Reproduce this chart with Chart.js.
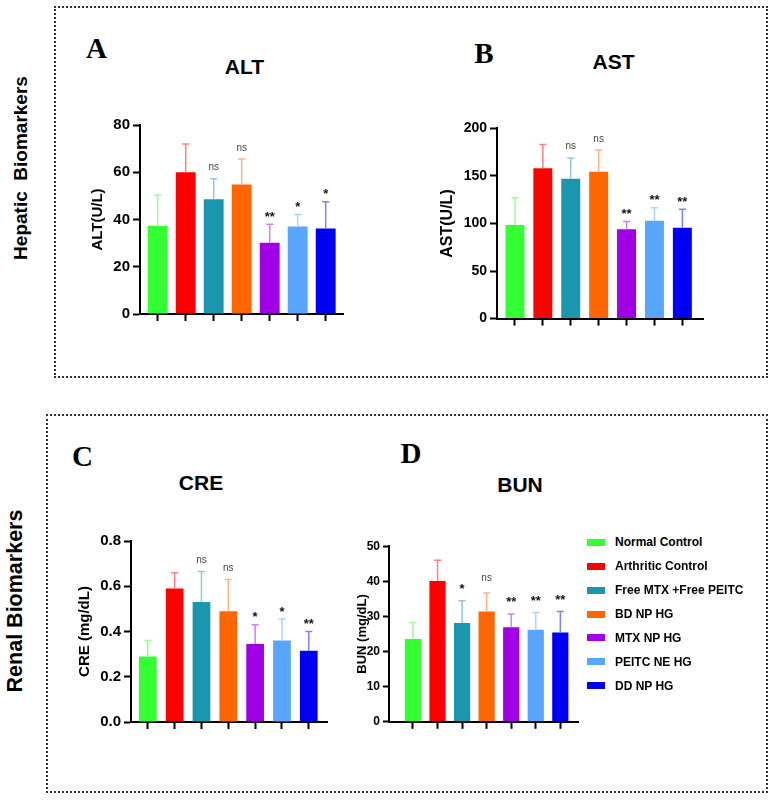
<!DOCTYPE html>
<html>
<head>
<meta charset="utf-8">
<script src="https://cdn.jsdelivr.net/npm/chart.js@4.4.0/dist/chart.umd.min.js"></script>
<style>
    body { margin: 0; background: #fff; font-family: "Liberation Sans", Arial, sans-serif; }
    #page { position: relative; width: 771px; height: 800px; overflow: hidden; }
    .box { position: absolute; border: 2px dotted #333; box-sizing: border-box; }
    .lbl { position: absolute; transform: translate(-50%, -50%); line-height: 1; white-space: nowrap; font-weight: bold; color: #000; }
    .letter { font-family: "Liberation Serif", "Times New Roman", serif; font-size: 29px; }
    .ttl { font-size: 21px; }
    .side { transform: translate(-50%, -50%) rotate(-90deg); }
    canvas { position: absolute; }
    .leg { position: absolute; left: 587px; height: 24px; display: flex; align-items: center; font-size: 12px; font-weight: bold; white-space: nowrap; }
    .leg span { display: inline-block; width: 18px; height: 7px; margin-right: 10px; }
</style>
</head>
<body>
<div id="page">
    <div class="box" style="left:54px;top:6px;width:714px;height:372px;"></div>
    <div class="box" style="left:46px;top:414px;width:722px;height:379px;"></div>

    <div class="lbl side" style="left:20px;top:168px;font-size:19px;">Hepatic&nbsp; Biomarkers</div>
    <div class="lbl side" style="left:15.5px;top:601px;font-size:21.5px;">Renal Biomarkers</div>

    <div class="lbl letter" style="left:96.5px;top:48px;">A</div>
    <div class="lbl ttl" style="left:244.5px;top:65.5px;">ALT</div>
    <div class="lbl letter" style="left:484px;top:52.5px;">B</div>
    <div class="lbl ttl" style="left:613.5px;top:61px;">AST</div>
    <div class="lbl letter" style="left:82.5px;top:456px;">C</div>
    <div class="lbl ttl" style="left:201px;top:481.5px;">CRE</div>
    <div class="lbl letter" style="left:411px;top:452.5px;">D</div>
    <div class="lbl ttl" style="left:520px;top:483.5px;">BUN</div>

    <canvas id="altChart"></canvas>
    <canvas id="astChart"></canvas>
    <canvas id="creChart"></canvas>
    <canvas id="bunChart"></canvas>
    <div id="legend"></div>
</div>
<script>
const groups = ['Normal Control', 'Arthritic Control', 'Free MTX +Free PEITC', 'BD NP HG', 'MTX NP HG', 'PEITC NE HG', 'DD NP HG'];
const barColors = ['#33ff33', '#ff0000', '#1a96ae', '#ff6600', '#a100e6', '#58a6ff', '#0000f2'];

const altMean = [37.4, 60, 48.6, 54.8, 30.2, 37, 36.2];
const altSd = [13, 12, 8.7, 10.8, 7.8, 5.1, 11.3];
const altSig = ['', '', 'ns', 'ns', '**', '*', '*'];
const altTicks = [0, 20, 40, 60, 80];

const astMean = [98.5, 158, 147, 154.5, 94, 103, 95.5];
const astSd = [28.5, 25, 22, 22.5, 8, 13.5, 19.5];
const astSig = ['', '', 'ns', 'ns', '**', '**', '**'];
const astTicks = [0, 50, 100, 150, 200];

const creMean = [0.29, 0.59, 0.53, 0.49, 0.345, 0.36, 0.315];
const creSd = [0.07, 0.07, 0.135, 0.14, 0.085, 0.095, 0.085];
const creSig = ['', '', 'ns', 'ns', '*', '*', '**'];
const creTicks = [0, 0.2, 0.4, 0.6, 0.8];

const bunMean = [23.6, 40.1, 28.1, 31.4, 26.9, 26.2, 25.4];
const bunSd = [4.7, 5.9, 6.4, 5.3, 3.8, 4.9, 6];
const bunSig = ['', '', '*', 'ns', '**', '**', '**'];
const bunTicks = [0, 10, 20, 30, 40, 50];

Chart.defaults.font.family = '"Liberation Sans", Arial, sans-serif';

// layout of each panel: plot area [left, top, right, bottom] in page pixels
const panels = [
    { id: 'altChart', title: 'ALT(U/L)', mean: altMean, sd: altSd, sig: altSig, ticks: altTicks, dec: 0,
      area: [140, 123, 343, 316], inset: [3.7, 3.3], bar: 0.71, tickFont: 15, titleFont: 15, titlePad: 9, tickLen: 7, sigGap: 11 },
    { id: 'astChart', title: 'AST(U/L)', mean: astMean, sd: astSd, sig: astSig, ticks: astTicks, dec: 0,
      area: [497, 127, 703, 320], inset: [4, 6.7], bar: 0.68, tickFont: 14, titleFont: 16, titlePad: 1.4, tickLen: 7, sigGap: 11 },
    { id: 'creChart', title: 'CRE (mg/dL)', mean: creMean, sd: creSd, sig: creSig, ticks: creTicks, dec: 1,
      area: [131, 539, 327, 724], inset: [3.4, 4.8], bar: 0.66, tickFont: 15, titleFont: 15, titlePad: 5, tickLen: 7, sigGap: 11 },
    { id: 'bunChart', title: 'BUN (mg/dL)', mean: bunMean, sd: bunSd, sig: bunSig, ticks: bunTicks, dec: 0,
      area: [389, 546, 578, 722], inset: [11.7, 5.4], bar: 0.66, tickFont: 12, titleFont: 13, titlePad: 25.7, tickLen: 6, sigGap: 15 }
];

function lighten(hex) {
    const n = parseInt(hex.slice(1), 16);
    const mix = c => Math.round(c + (255 - c) * 0.5);
    return `rgb(${mix(n >> 16)}, ${mix((n >> 8) & 255)}, ${mix(n & 255)})`;
}

const errorBars = {
    id: 'errorBars',
    afterLayout(chart, args, opts) {
        // pull the categories in from the axis ends
        const x = chart.scales.x;
        x._startPixel = x.left + opts.inset[0];
        x._endPixel = x.right - opts.inset[1];
        x._length = x._endPixel - x._startPixel;
    },
    afterDatasetsDraw(chart, args, opts) {
        const { ctx, scales: { y } } = chart;
        chart.getDatasetMeta(0).data.forEach((bar, i) => {
            const top = y.getPixelForValue(opts.mean[i] + opts.sd[i]);
            ctx.save();
            ctx.strokeStyle = lighten(barColors[i]);
            ctx.lineWidth = 1.5;
            ctx.beginPath();
            ctx.moveTo(bar.x, bar.y);
            ctx.lineTo(bar.x, top);
            ctx.moveTo(bar.x - 3.5, top);
            ctx.lineTo(bar.x + 3.5, top);
            ctx.stroke();
            const s = opts.sig[i];
            if (s) {
                const ns = s === 'ns';
                ctx.font = ns ? '10px "Liberation Sans"' : 'bold 13px "Liberation Sans"';
                ctx.fillStyle = ns ? '#444' : '#111';
                ctx.textAlign = 'center';
                ctx.fillText(s, bar.x, top - opts.sigGap + (ns ? 2.6 : 7.5));
            }
            ctx.restore();
        });
    }
};

panels.forEach(p => {
    const canvas = document.getElementById(p.id);
    const left = p.area[0] - 60, top = p.area[1] - 10;
    canvas.width = p.area[2] - left + 4;
    canvas.height = p.area[3] + 10 - top;
    canvas.style.left = left + 'px';
    canvas.style.top = top + 'px';

    new Chart(canvas, {
        type: 'bar',
        data: {
            labels: groups,
            datasets: [{
                data: p.mean,
                backgroundColor: barColors,
                borderWidth: 0,
                barPercentage: p.bar,
                categoryPercentage: 1
            }]
        },
        options: {
            responsive: false,
            animation: false,
            devicePixelRatio: 1,
            layout: { padding: { top: 10, right: 4, bottom: 0, left: 0 } },
            plugins: {
                legend: { display: false },
                tooltip: { enabled: false },
                errorBars: { mean: p.mean, sd: p.sd, sig: p.sig, inset: p.inset, sigGap: p.sigGap }
            },
            scales: {
                x: {
                    offset: true,
                    grid: { display: true, offset: false, drawOnChartArea: false, tickLength: 7, tickWidth: 2, tickColor: '#000' },
                    border: { color: '#000', width: 2 },
                    ticks: { display: false },
                    afterFit(s) { s.height = 10; }
                },
                y: {
                    min: p.ticks[0],
                    max: p.ticks[p.ticks.length - 1],
                    grid: { drawOnChartArea: false, tickLength: p.tickLen, tickWidth: 2, tickColor: '#000' },
                    border: { color: '#000', width: 2 },
                    ticks: {
                        stepSize: p.ticks[1] - p.ticks[0],
                        padding: 3,
                        color: '#000',
                        font: { size: p.tickFont, weight: 'bold' },
                        callback: v => v.toFixed(p.dec)
                    },
                    title: {
                        display: true,
                        text: p.title,
                        color: '#000',
                        font: { size: p.titleFont, weight: 'bold' },
                        padding: { top: p.titlePad, bottom: 0 }
                    },
                    afterFit(s) { s.width = 60; }
                }
            }
        },
        plugins: [errorBars]
    });
});

const legend = document.getElementById('legend');
groups.forEach((g, i) => {
    const row = document.createElement('div');
    row.className = 'leg';
    row.style.top = (542.3 + i * 23.9 - 12) + 'px';
    row.innerHTML = `<span style="background:${barColors[i]}"></span>${g}`;
    legend.appendChild(row);
});
</script>
</body>
</html>
